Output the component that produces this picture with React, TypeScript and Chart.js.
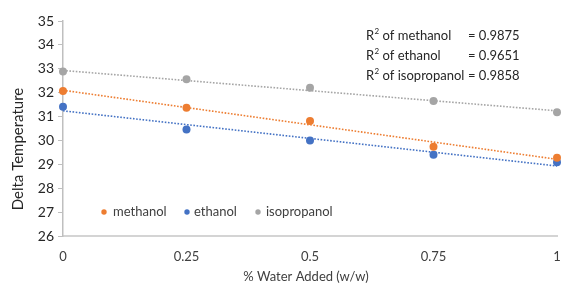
import React, { useEffect, useRef } from "react";
import { Chart, registerables } from "chart.js";

Chart.register(...registerables);

// ---- data ----
const waterAdded = [0, 0.25, 0.5, 0.75, 1];
const methanol = [32.07, 31.37, 30.81, 29.74, 29.28];
const ethanol = [31.41, 30.46, 30.0, 29.4, 29.09];
const isopropanol = [32.89, 32.56, 32.21, 31.65, 31.18];

const trendX = [0, 1];
const methanolTrend = [32.1, 29.21];
const ethanolTrend = [31.24, 28.93];
const isopropanolTrend = [32.93, 31.24];

const seriesNames = ["methanol", "ethanol", "isopropanol"];
const seriesColors = ["#ED7D31", "#4472C4", "#A5A5A5"];
const rSquaredLabels = ["of methanol", "of ethanol", "of isopropanol"];
const rSquaredValues = ["= 0.9875", "= 0.9651", "= 0.9858"];

const xTicks = [0, 0.25, 0.5, 0.75, 1];
const xTickLabels = ["0", "0.25", "0.5", "0.75", "1"];
const yTicks = [26, 27, 28, 29, 30, 31, 32, 33, 34, 35];
const yTickLabels = ["26", "27", "28", "29", "30", "31", "32", "33", "34", "35"];

const xTitle = "% Water Added (w/w)";
const yTitle = "Delta Temperature";

const FONT = "Lato, 'Open Sans', sans-serif";
const TEXT = "#404040";

const toPoints = (xs: number[], ys: number[]) => xs.map((x, i) => ({ x, y: ys[i] }));

const overlayPlugin = {
  id: "overlay",
  afterDraw(chart: any) {
    const ctx = chart.ctx as CanvasRenderingContext2D;
    ctx.save();
    // legend
    const legendY = 212;
    const markerX = [104, 187, 258];
    const textX = [113, 194, 266];
    ctx.font = `13px ${FONT}`;
    ctx.textBaseline = "middle";
    ctx.textAlign = "left";
    seriesNames.forEach((name, i) => {
      ctx.fillStyle = seriesColors[i];
      ctx.beginPath();
      ctx.arc(markerX[i], legendY, 2.7, 0, Math.PI * 2);
      ctx.fill();
      ctx.fillStyle = TEXT;
      ctx.fillText(name, textX[i], legendY);
    });

    // R^2 annotations
    const rowY = [36, 56, 76];
    rowY.forEach((y, i) => {
      ctx.fillStyle = "#262626";
      ctx.font = `13px ${FONT}`;
      ctx.textBaseline = "middle";
      ctx.textAlign = "left";
      let x = 366;
      ctx.fillText("R", x, y);
      x += ctx.measureText("R").width;
      ctx.font = `8px ${FONT}`;
      ctx.fillText("2", x + 0.3, y - 4.5);
      x += ctx.measureText("2").width + 0.5;
      ctx.font = `13px ${FONT}`;
      ctx.fillText(" " + rSquaredLabels[i], x, y);
      ctx.fillText(rSquaredValues[i], 468, y);
    });

    // axis titles
    ctx.fillStyle = TEXT;
    ctx.font = `13px ${FONT}`;
    ctx.textAlign = "center";
    ctx.textBaseline = "middle";
    ctx.fillText(xTitle, 306, 277);

    ctx.save();
    ctx.translate(18, 149);
    ctx.rotate(-Math.PI / 2);
    ctx.font = `15px ${FONT}`;
    ctx.fillStyle = "#262626";
    ctx.fillText(yTitle, 0, 0);
    ctx.restore();

    ctx.restore();
  },
};

export default function App() {
  const ref = useRef<HTMLCanvasElement | null>(null);

  useEffect(() => {
    if (!ref.current) return;
    const scatterDs = (i: number, ys: number[]) => ({
      type: "scatter" as const,
      label: seriesNames[i],
      data: toPoints(waterAdded, ys),
      backgroundColor: seriesColors[i],
      borderColor: seriesColors[i],
      pointRadius: 4,
      pointBorderWidth: 0,
      showLine: false,
      clip: false as any,
      order: 0,
    });
    const trendDs = (i: number, ys: number[]) => ({
      type: "line" as const,
      label: seriesNames[i] + " trend",
      data: toPoints(trendX, ys),
      borderColor: seriesColors[i],
      borderWidth: 1.6,
      borderDash: [1.6, 1.6],
      pointRadius: 0,
      fill: false,
      clip: false as any,
      order: 1,
    });

    const chart = new Chart(ref.current, {
      type: "scatter",
      data: {
        datasets: [
          trendDs(0, methanolTrend),
          trendDs(1, ethanolTrend),
          trendDs(2, isopropanolTrend),
          scatterDs(0, methanol),
          scatterDs(1, ethanol),
          scatterDs(2, isopropanol),
        ] as any,
      },
      options: {
        responsive: false,
        animation: false,
        layout: { padding: { top: 21, right: 6, left: 0, bottom: 0 } },
        plugins: {
          legend: { display: false },
          tooltip: { enabled: false },
        },
        scales: {
          x: {
            type: "linear",
            min: 0,
            max: 1,
            afterBuildTicks: (s: any) => {
              s.ticks = xTicks.map((v) => ({ value: v }));
            },
            afterFit: (s: any) => {
              s.height = 52;
              s.paddingLeft = 0;
              s.paddingRight = 0;
            },
            ticks: {
              callback: (_v: any, i: number) => xTickLabels[i],
              color: TEXT,
              font: { family: FONT, size: 13 },
              padding: 13,
              maxRotation: 0,
            },
            grid: { drawOnChartArea: false, drawTicks: false },
            border: { color: "#d4d4d4", width: 2 },
          },
          y: {
            type: "linear",
            min: 26,
            max: 35,
            afterBuildTicks: (s: any) => {
              s.ticks = yTicks.map((v) => ({ value: v }));
            },
            afterFit: (s: any) => {
              s.width = 63;
              s.paddingTop = 0;
              s.paddingBottom = 0;
            },
            ticks: {
              callback: (_v: any, i: number) => yTickLabels[i],
              color: "#262626",
              font: { family: FONT, size: 14 },
              padding: 4,
            },
            grid: {
              drawOnChartArea: false,
              drawTicks: true,
              tickLength: 5,
              color: "#bfbfbf",
              lineWidth: 1,
            },
            border: { color: "#bfbfbf", width: 1.5 },
          },
        },
      },
      plugins: [overlayPlugin],
    });
    return () => chart.destroy();
  }, []);

  return (
    <div style={{ position: "fixed", left: 0, top: 0, width: 563, height: 288, background: "#fff" }}>
      <canvas ref={ref} width={563} height={288} style={{ display: "block" }} />
    </div>
  );
}
